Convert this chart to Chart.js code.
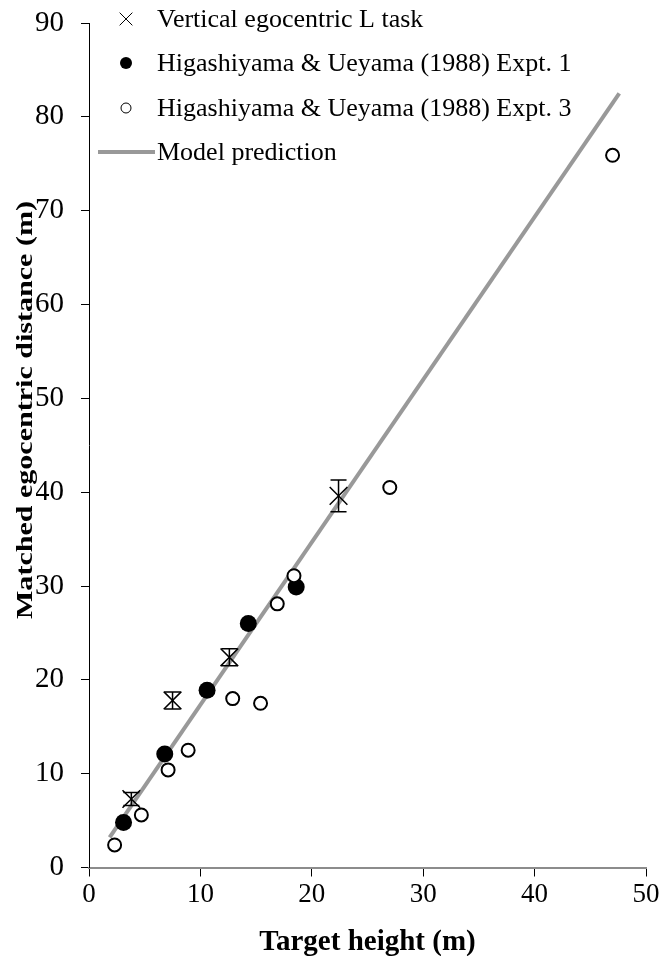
<!DOCTYPE html>
<html>
<head>
<meta charset="utf-8">
<script src="https://cdn.jsdelivr.net/npm/chart.js@4.4.1/dist/chart.umd.min.js"></script>
<style>
  html, body { margin: 0; padding: 0; background: #ffffff; }
  #wrap { width: 660px; height: 956px; position: relative; }
</style>
</head>
<body>
<div id="wrap"><canvas id="chart"></canvas></div>
<script>
// Axis ticks
const xTicks = [0, 10, 20, 30, 40, 50];
const yTicks = [0, 10, 20, 30, 40, 50, 60, 70, 80, 90];

// Vertical egocentric L task: mean matched distance with error
const lTaskHeight   = [3.8, 7.5, 12.6, 22.4];
const lTaskDistance = [7.3, 17.8, 22.4, 39.6];
const lTaskError    = [0.7, 0.9, 0.9, 1.7];

// Higashiyama & Ueyama (1988) Expt. 1
const expt1Height   = [3.1, 6.8, 10.6, 14.3, 18.6];
const expt1Distance = [4.8, 12.1, 18.9, 26.0, 29.9];

// Higashiyama & Ueyama (1988) Expt. 3
const expt3Height   = [2.3, 4.7, 7.1, 8.9, 12.9, 15.4, 16.9, 18.4, 27.0, 47.0];
const expt3Distance = [2.4, 5.6, 10.4, 12.5, 18.0, 17.5, 28.1, 31.1, 40.5, 75.9];

// Model prediction (straight line end points)
const modelHeight   = [1.85, 47.6];
const modelDistance = [3.2, 82.5];

const seriesNames = [
  'Vertical egocentric L task',
  'Higashiyama & Ueyama (1988) Expt. 1',
  'Higashiyama & Ueyama (1988) Expt. 3',
  'Model prediction'
];

const xTitle = 'Target height (m)';
const yTitle = 'Matched egocentric distance (m)';

const toPoints = (xs, ys) => xs.map((x, i) => ({ x: x, y: ys[i] }));

// Vertical error bars for the L task series
const errorBarPlugin = {
  id: 'errorBars',
  afterDatasetsDraw(chart) {
    const ctx = chart.ctx;
    const xs = chart.scales.x, ys = chart.scales.y;
    const cap = 8;
    ctx.save();
    ctx.strokeStyle = '#000';
    ctx.lineWidth = 1.5;
    lTaskHeight.forEach((h, i) => {
      const px = xs.getPixelForValue(h);
      const top = ys.getPixelForValue(lTaskDistance[i] + lTaskError[i]);
      const bot = ys.getPixelForValue(lTaskDistance[i] - lTaskError[i]);
      ctx.beginPath();
      ctx.moveTo(px, top); ctx.lineTo(px, bot);
      ctx.moveTo(px - cap, top); ctx.lineTo(px + cap, top);
      ctx.moveTo(px - cap, bot); ctx.lineTo(px + cap, bot);
      ctx.stroke();
    });
    ctx.restore();
  }
};

// Legend in the upper-left corner of the plot
const legendPlugin = {
  id: 'cornerLegend',
  afterDraw(chart) {
    const ctx = chart.ctx;
    const markX = 126, textX = 157;
    const rows = [19, 63, 108, 152];
    ctx.save();
    ctx.font = '26px "Liberation Serif", serif';
    ctx.textAlign = 'left';
    ctx.textBaseline = 'middle';
    ctx.fillStyle = '#000';
    [0, 1, 2, 3].forEach((di, r) => {
      const y = rows[r];
      const ds = chart.data.datasets[di];
      if (di === 3) {
        ctx.strokeStyle = ds.borderColor;
        ctx.lineWidth = ds.borderWidth;
        ctx.beginPath();
        ctx.moveTo(98, y); ctx.lineTo(155, y);
        ctx.stroke();
      } else {
        ctx.strokeStyle = ds.borderColor;
        ctx.fillStyle = ds.backgroundColor;
        const legendSize = [9, 6, 5][di];
        Chart.helpers.drawPoint(ctx, {
          pointStyle: ds.pointStyle,
          radius: legendSize,
          rotation: 0,
          borderWidth: ds.borderWidth
        }, markX, y);
      }
      ctx.fillStyle = '#000';
      ctx.fillText(ds.label, textX, y + 1);
    });
    ctx.restore();
  }
};

// Rotated, slightly condensed y-axis title
const yTitlePlugin = {
  id: 'yTitle',
  afterDraw(chart) {
    const ctx = chart.ctx;
    ctx.save();
    ctx.font = 'bold 24px "Liberation Serif", serif';
    const w = ctx.measureText(yTitle).width;
    ctx.translate(32, 410);
    ctx.rotate(-Math.PI / 2);
    ctx.scale(418 / w, 1);
    ctx.fillStyle = '#000';
    ctx.textAlign = 'center';
    ctx.textBaseline = 'alphabetic';
    ctx.fillText(yTitle, 0, 0);
    ctx.restore();
  }
};

new Chart(document.getElementById('chart'), {
  type: 'scatter',
  data: {
    datasets: [
      {
        label: seriesNames[0],
        data: toPoints(lTaskHeight, lTaskDistance),
        pointStyle: 'crossRot',
        pointRadius: 12.5,
        borderColor: '#000',
        backgroundColor: '#000',
        borderWidth: 1.5,
        order: 2
      },
      {
        label: seriesNames[1],
        data: toPoints(expt1Height, expt1Distance),
        pointStyle: 'circle',
        pointRadius: 8.5,
        borderColor: '#000',
        backgroundColor: '#000',
        borderWidth: 0,
        order: 1
      },
      {
        label: seriesNames[2],
        data: toPoints(expt3Height, expt3Distance),
        pointStyle: 'circle',
        pointRadius: 6.5,
        borderColor: '#000',
        backgroundColor: '#fff',
        borderWidth: 2,
        order: 0
      },
      {
        type: 'line',
        label: seriesNames[3],
        data: toPoints(modelHeight, modelDistance),
        borderColor: '#999999',
        backgroundColor: '#999999',
        borderWidth: 4,
        borderCapStyle: 'butt',
        pointRadius: 0,
        fill: false,
        tension: 0,
        order: 3
      }
    ]
  },
  options: {
    responsive: true,
    maintainAspectRatio: false,
    animation: false,
    layout: { padding: { top: 23, left: 36, right: 10, bottom: 0 } },
    plugins: {
      legend: { display: false },
      tooltip: { enabled: false },
      title: { display: false }
    },
    scales: {
      x: {
        type: 'linear',
        min: xTicks[0],
        max: xTicks[xTicks.length - 1],
        afterBuildTicks(scale) { scale.ticks = xTicks.map(v => ({ value: v })); },
        afterFit(scale) { scale.paddingLeft = 0; scale.paddingRight = 0; },
        grid: { drawOnChartArea: false, drawTicks: true, tickLength: 9, color: '#000', lineWidth: 1 },
        border: { display: true, color: '#8c8c8c', width: 2 },
        ticks: { color: '#000', padding: 2, font: { family: '"Liberation Serif", serif', size: 27 } },
        title: {
          display: true,
          text: xTitle,
          color: '#000',
          font: { family: '"Liberation Serif", serif', size: 29, weight: 'bold', lineHeight: 0.9 },
          padding: { top: 17, bottom: 0 }
        }
      },
      y: {
        type: 'linear',
        min: yTicks[0],
        max: yTicks[yTicks.length - 1],
        afterBuildTicks(scale) { scale.ticks = yTicks.map(v => ({ value: v })); },
        afterFit(scale) { scale.width = 53; scale.paddingTop = 0; scale.paddingBottom = 0; },
        grid: { drawOnChartArea: false, drawTicks: true, tickLength: 8, color: '#000', lineWidth: 1 },
        border: { display: true, color: '#000', width: 1 },
        ticks: { color: '#000', padding: 17, font: { family: '"Liberation Serif", serif', size: 29 } },
        title: { display: false }
      }
    }
  },
  plugins: [errorBarPlugin, legendPlugin, yTitlePlugin]
});
</script>
</body>
</html>
